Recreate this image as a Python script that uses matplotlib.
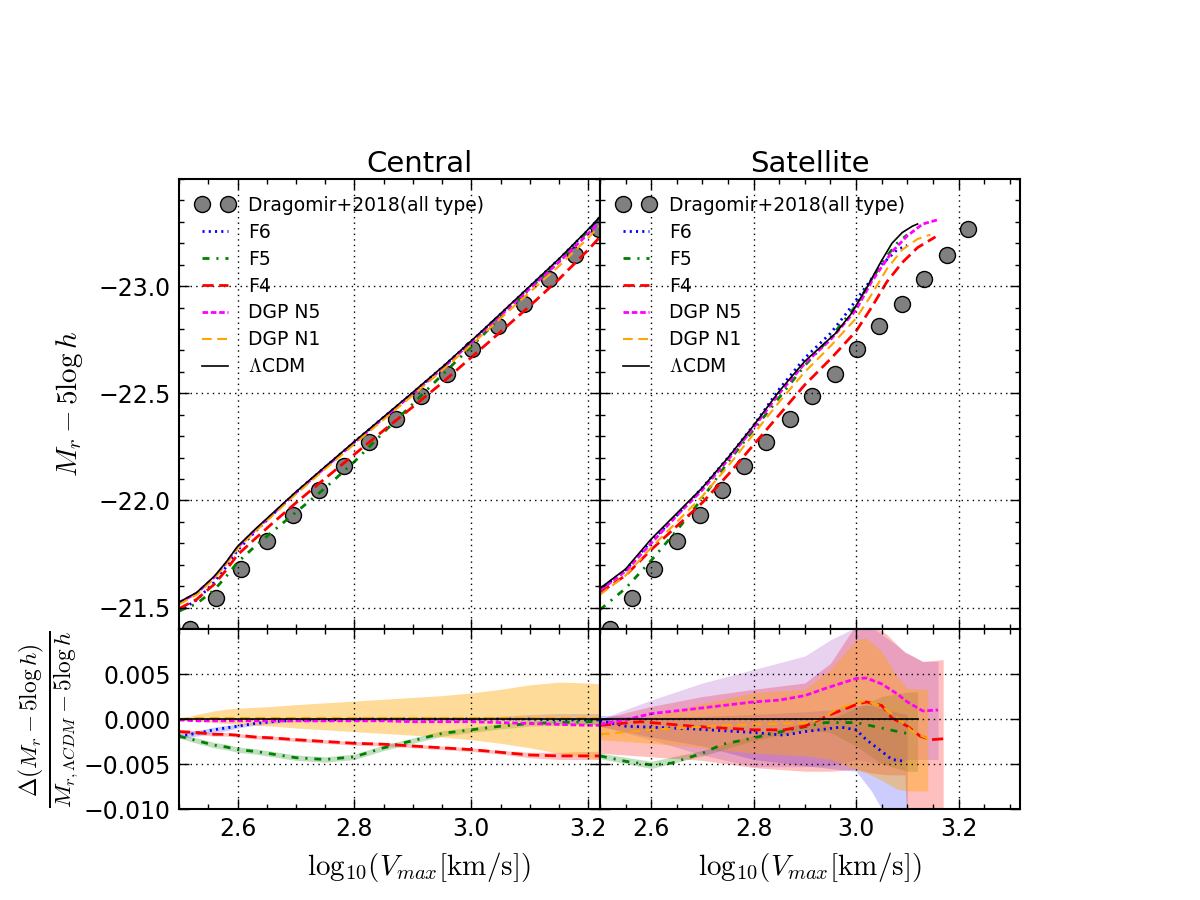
import numpy as np
import matplotlib.pyplot as plt
from matplotlib.ticker import MultipleLocator, FixedLocator

plt.rcParams['font.family'] = ['DejaVu Sans']
plt.rcParams['mathtext.fontset'] = 'cm'
plt.rcParams['lines.scale_dashes'] = False

# ---- Dragomir+2018 (all type) ----
obs_x = [2.519, 2.563, 2.606, 2.650, 2.695, 2.739, 2.782, 2.825, 2.871, 2.914,
         2.958, 3.001, 3.045, 3.090, 3.132, 3.177, 3.218]
obs_y = [-21.400, -21.547, -21.682, -21.812, -21.934, -22.050, -22.162, -22.274,
         -22.381, -22.489, -22.591, -22.708, -22.815, -22.918, -23.035, -23.146, -23.268]

# ---- Central: magnitude curves ----
x_cen = [2.50, 2.53, 2.56, 2.58, 2.60, 2.63, 2.66, 2.70, 2.75, 2.80, 2.85, 2.90, 2.95,
         3.00, 3.05, 3.10, 3.15, 3.20, 3.22]
cen_lcdm = [-21.525, -21.57, -21.645, -21.71, -21.785, -21.865, -21.94, -22.04, -22.158, -22.275,
            -22.39, -22.505, -22.622, -22.745, -22.872, -23.0, -23.128, -23.265, -23.325]
cen_f6 = [-21.483, -21.535, -21.618, -21.688, -21.767, -21.854, -21.934, -22.038, -22.156, -22.273,
          -22.388, -22.503, -22.62, -22.743, -22.87, -22.998, -23.126, -23.262, -23.322]
cen_f5 = [-21.484, -21.518, -21.582, -21.643, -21.711, -21.786, -21.855, -21.945, -22.058, -22.181,
          -22.318, -22.451, -22.586, -22.718, -22.854, -22.988, -23.119, -23.258, -23.318]
cen_f4 = [-21.495, -21.538, -21.608, -21.673, -21.746, -21.821, -21.894, -21.989, -22.103, -22.215,
          -22.327, -22.437, -22.549, -22.668, -22.787, -22.908, -23.033, -23.17, -23.23]
cen_n5 = [-21.523, -21.567, -21.641, -21.706, -21.781, -21.861, -21.936, -22.036, -22.154, -22.27,
          -22.385, -22.498, -22.615, -22.738, -22.863, -22.989, -23.113, -23.245, -23.303]
cen_n1 = [-21.515, -21.56, -21.635, -21.70, -21.775, -21.855, -21.93, -22.03, -22.147, -22.263,
          -22.378, -22.491, -22.607, -22.727, -22.85, -22.972, -23.094, -23.225, -23.285]

# ---- Satellite: magnitude curves ----
sat_lcdm_x = [2.50, 2.55, 2.60, 2.65, 2.70, 2.75, 2.80, 2.85, 2.90, 2.93, 2.96, 2.99, 3.02, 3.05, 3.07, 3.09, 3.11, 3.12]
sat_lcdm_y = [-21.59, -21.68, -21.82, -21.94, -22.06, -22.20, -22.35, -22.51, -22.65, -22.715, -22.78, -22.87,
              -22.99, -23.12, -23.20, -23.25, -23.28, -23.29]
sat_f6_x = [2.50, 2.55, 2.60, 2.65, 2.70, 2.75, 2.80, 2.85, 2.90, 2.95, 2.98, 3.02, 3.05, 3.08, 3.10]
sat_f6_y = [-21.585, -21.675, -21.81, -21.93, -22.06, -22.20, -22.35, -22.52, -22.665, -22.78, -22.87, -23.00,
            -23.10, -23.17, -23.19]
sat_f5_x = [2.50, 2.55, 2.60, 2.65, 2.70, 2.75, 2.80, 2.85, 2.90, 2.95, 3.00, 3.03, 3.06, 3.08, 3.10]
sat_f5_y = [-21.49, -21.59, -21.72, -21.86, -22.01, -22.18, -22.33, -22.48, -22.63, -22.76, -22.91, -23.03,
            -23.14, -23.20, -23.24]
sat_f4_x = [2.50, 2.55, 2.60, 2.65, 2.70, 2.75, 2.80, 2.85, 2.90, 2.95, 3.00, 3.03, 3.06, 3.09, 3.12, 3.155]
sat_f4_y = [-21.57, -21.65, -21.77, -21.88, -21.99, -22.12, -22.26, -22.40, -22.54, -22.66, -22.79, -22.90,
            -23.02, -23.11, -23.18, -23.23]
sat_n5_x = [2.50, 2.55, 2.60, 2.65, 2.70, 2.75, 2.80, 2.85, 2.90, 2.95, 3.00, 3.03, 3.07, 3.10, 3.13, 3.16]
sat_n5_y = [-21.58, -21.67, -21.80, -21.93, -22.05, -22.19, -22.34, -22.50, -22.64, -22.75, -22.89, -23.02,
            -23.16, -23.235, -23.29, -23.31]
sat_n1_x = [2.50, 2.55, 2.60, 2.65, 2.70, 2.75, 2.80, 2.85, 2.90, 2.95, 3.00, 3.03, 3.06, 3.09, 3.12, 3.145]
sat_n1_y = [-21.56, -21.65, -21.78, -21.90, -22.02, -22.16, -22.31, -22.46, -22.60, -22.72, -22.85, -22.96,
            -23.08, -23.17, -23.22, -23.24]

# ---- Central: fractional difference to LCDM ----
rc_f6 = [-0.0019, -0.0016, -0.0012, -0.0010, -0.0008, -0.0005, -0.0003, -0.0001, -0.0001, 0.0, 0.0, 0.0, 0.0,
         0.0, 0.0, 0.0, -0.0001, -0.0001, -0.0001]
rc_f6_lo = [-0.0022, -0.0019, -0.0015, -0.0013, -0.0010, -0.0007, -0.0005, -0.0003, -0.0003, -0.0002, -0.0002,
            -0.0002, -0.0002, -0.0002, -0.0002, -0.0003, -0.0005, -0.0006, -0.0006]
rc_f6_hi = [-0.0016, -0.0013, -0.0009, -0.0007, -0.0006, -0.0003, -0.0001, 0.0001, 0.0001, 0.0002, 0.0002,
            0.0002, 0.0002, 0.0002, 0.0003, 0.0005, 0.0006, 0.0006, 0.0006]
rc_f5 = [-0.0019, -0.0024, -0.0029, -0.0031, -0.0034, -0.0036, -0.0039, -0.0043, -0.0045, -0.0042, -0.0032,
         -0.0024, -0.0016, -0.0012, -0.0008, -0.0005, -0.0004, -0.0003, -0.0003]
rc_f5_lo = [-0.0021, -0.0027, -0.0032, -0.0034, -0.0037, -0.0039, -0.0042, -0.0046, -0.0048, -0.0045, -0.0035,
            -0.0027, -0.0019, -0.0015, -0.0011, -0.0008, -0.0007, -0.0006, -0.0006]
rc_f5_hi = [-0.0017, -0.0021, -0.0026, -0.0028, -0.0031, -0.0033, -0.0036, -0.0040, -0.0042, -0.0039, -0.0029,
            -0.0021, -0.0013, -0.0009, -0.0005, -0.0002, -0.0001, 0.0000, 0.0000]
rc_f4 = [-0.0014, -0.0015, -0.0017, -0.0017, -0.0018, -0.0020, -0.0021, -0.0023, -0.0025, -0.0027, -0.0028,
         -0.0030, -0.0032, -0.0034, -0.0037, -0.0040, -0.0041, -0.0041, -0.0041]
rc_f4_lo = [-0.0016, -0.0017, -0.0019, -0.0019, -0.0020, -0.0022, -0.0023, -0.0025, -0.0027, -0.0029, -0.0030,
            -0.0032, -0.0034, -0.0036, -0.0039, -0.0043, -0.0045, -0.0045, -0.0045]
rc_f4_hi = [-0.0012, -0.0013, -0.0015, -0.0015, -0.0016, -0.0018, -0.0019, -0.0021, -0.0023, -0.0025, -0.0026,
            -0.0028, -0.0030, -0.0032, -0.0035, -0.0037, -0.0037, -0.0036, -0.0036]
rc_n5 = [-0.0001, -0.0002, -0.0002, -0.0002, -0.0002, -0.0002, -0.0002, -0.0002, -0.0002, -0.0002, -0.0002,
         -0.0003, -0.0003, -0.0003, -0.0004, -0.0005, -0.0006, -0.0007, -0.0007]
rc_n1 = [0.0, 0.0001, 0.0001, 0.0001, 0.0001, 0.0001, 0.0001, 0.0001, 0.0001, 0.0001, 0.0001, 0.0001, 0.0001,
         0.0001, 0.0001, 0.0001, 0.0001, 0.0001, 0.0001]
rc_n1_lo = [0.0, -0.0002, -0.0004, -0.0005, -0.0006, -0.0007, -0.0008, -0.0010, -0.0012, -0.0014, -0.0016,
            -0.0018, -0.0020, -0.0023, -0.0027, -0.0032, -0.0038, -0.0043, -0.0045]
rc_n1_hi = [0.0, 0.0005, 0.0009, 0.0011, 0.0012, 0.0013, 0.0014, 0.0016, 0.0018, 0.0020, 0.0022, 0.0024, 0.0026,
            0.0029, 0.0033, 0.0038, 0.0041, 0.0040, 0.0039]
rc_lcdm = [0.0] * 19

# ---- Satellite: fractional difference to LCDM ----
rs_n5_x = [2.50, 2.55, 2.60, 2.68, 2.80, 2.85, 2.90, 2.94, 3.00, 3.02, 3.05, 3.08, 3.10, 3.13, 3.16]
rs_n5_y = [-0.0006, -0.0001, 0.0006, 0.0011, 0.0019, 0.0021, 0.0026, 0.0034, 0.0045, 0.00455, 0.0039, 0.0028,
           0.0019, 0.0009, 0.0010]
rs_n1_x = [2.50, 2.60, 2.74, 2.90, 2.93, 2.96, 3.00, 3.02, 3.05, 3.09, 3.11, 3.14]
rs_n1_y = [-0.0017, -0.0012, -0.0007, -0.00044, 0.0, 0.0010, 0.00185, 0.0020, 0.0014, -0.0003, -0.0014, -0.0022]
rs_f4_x = [2.50, 2.58, 2.68, 2.80, 2.86, 2.90, 2.95, 3.00, 3.02, 3.05, 3.07, 3.10, 3.125, 3.145, 3.17]
rs_f4_y = [-0.0007, -0.0003, -0.0008, -0.0012, -0.0012, -0.0008, 0.0005, 0.0016, 0.0019, 0.0015, 0.0001, -0.0008,
           -0.0019, -0.0023, -0.0022]
rs_f5_x = [2.50, 2.55, 2.60, 2.64, 2.70, 2.74, 2.80, 2.87, 2.94, 3.00, 3.05, 3.09, 3.10]
rs_f5_y = [-0.0041, -0.0047, -0.0051, -0.0049, -0.0038, -0.0028, -0.0021, -0.0012, -0.0004, -0.0004, -0.0010,
           -0.0015, -0.0016]
rs_f6_x = [2.50, 2.55, 2.68, 2.80, 2.86, 2.90, 2.97, 3.00, 3.02, 3.05, 3.07, 3.095]
rs_f6_y = [-0.0002, -0.0008, -0.0011, -0.0015, -0.0018, -0.0014, -0.0009, -0.0012, -0.0023, -0.0036, -0.0045, -0.0047]
rs_lcdm_x = [2.50, 3.12]
rs_lcdm_y = [0.0, 0.0]

# satellite bands
bs_f6_x = [2.50, 2.60, 2.70, 2.80, 2.90, 2.95, 3.00, 3.03, 3.06, 3.10]
bs_f6_lo = [-0.0008, -0.0020, -0.0030, -0.0045, -0.0052, -0.0055, -0.0058, -0.0080, -0.0110, -0.0130]
bs_f6_hi = [0.0004, 0.0002, 0.0003, 0.0005, 0.0008, 0.0010, 0.0015, 0.0015, 0.0010, 0.0005]
bs_f5_x = [2.50, 2.60, 2.70, 2.80, 2.90, 2.95, 3.00, 3.05, 3.10, 3.12]
bs_f5_lo = [-0.0044, -0.0055, -0.0041, -0.0024, -0.0012, -0.0015, -0.0030, -0.0050, -0.0058, -0.0058]
bs_f5_hi = [-0.0038, -0.0047, -0.0035, -0.0018, -0.0004, 0.0000, 0.0012, 0.0025, 0.0030, 0.0030]
bs_f4_x = [2.50, 2.60, 2.70, 2.80, 2.90, 2.95, 3.00, 3.03, 3.06, 3.095, 3.10, 3.13, 3.17]
bs_f4_lo = [-0.0038, -0.0042, -0.0046, -0.0054, -0.0058, -0.0058, -0.0056, -0.0060, -0.0062, -0.0062, -0.0120,
            -0.0120, -0.0120]
bs_f4_hi = [0.0000, 0.0014, 0.0025, 0.0033, 0.0040, 0.0062, 0.0105, 0.0105, 0.0094, 0.0074, 0.0073, 0.0064, 0.0066]
bs_n5_x = [2.50, 2.60, 2.70, 2.80, 2.90, 2.95, 3.00, 3.03, 3.06, 3.10, 3.13, 3.16]
bs_n5_lo = [-0.0008, -0.0023, -0.0040, -0.0053, -0.0053, -0.0052, -0.0045, -0.0048, -0.0050, -0.0045, -0.0045, -0.0045]
bs_n5_hi = [0.0000, 0.0021, 0.0040, 0.0055, 0.0070, 0.0088, 0.0102, 0.0102, 0.0090, 0.0073, 0.0064, 0.0064]
bs_n1_x = [2.50, 2.60, 2.70, 2.80, 2.90, 2.95, 3.00, 3.02, 3.05, 3.08, 3.10, 3.14]
bs_n1_lo = [-0.0023, -0.0027, -0.0032, -0.0038, -0.0041, -0.0045, -0.0056, -0.0060, -0.0068, -0.0078, -0.0080, -0.0080]
bs_n1_hi = [-0.0005, 0.0003, 0.0017, 0.0029, 0.0033, 0.0055, 0.0088, 0.0090, 0.0075, 0.0047, 0.0034, 0.0033]

labels = ['F6', 'F5', 'F4', 'DGP N5', 'DGP N1', r'$\Lambda$CDM']
styles = {
    'F6': dict(color='#0000ff', lw=2, dashes=(1.5, 3)),
    'F5': dict(color='#008000', lw=2, dashes=(5, 5, 1.5, 5)),
    'F4': dict(color='#ff0000', lw=2, dashes=(8, 4)),
    'DGP N5': dict(color='#ff00ff', lw=2, dashes=(4, 2)),
    'DGP N1': dict(color='orange', lw=1.5, dashes=(7, 4)),
    r'$\Lambda$CDM': dict(color='k', lw=1.2, ls='-'),
}
band_alpha = {'F6': ('#0000ff', 0.2), 'F5': ('#008000', 0.25), 'F4': ('#ff0000', 0.25),
              'DGP N5': ('#9933bb', 0.22), 'DGP N1': ('orange', 0.4)}


def style_axes(ax, xlim, ylim, yticks, yminor=None):
    ax.set_xlim(xlim)
    ax.set_ylim(ylim)
    ax.xaxis.set_major_locator(MultipleLocator(0.2))
    ax.xaxis.set_minor_locator(MultipleLocator(0.05))
    ax.yaxis.set_major_locator(FixedLocator(yticks))
    if yminor:
        ax.yaxis.set_minor_locator(MultipleLocator(yminor))
    ax.tick_params(which='both', direction='in', top=True, right=True,
                   labelsize=17, pad=6)
    ax.tick_params(which='major', length=7, width=1)
    ax.tick_params(which='minor', length=3.5, width=1)
    ax.grid(True, which='major', color='k', linestyle=(0, (1, 3)), linewidth=1)
    ax.set_axisbelow(False)
    for s in ax.spines.values():
        s.set_linewidth(1.5)


fig = plt.figure(figsize=(12, 9), dpi=100)
ax_tl = fig.add_axes([0.1492, 0.3011, 0.3508, 0.5])
ax_tr = fig.add_axes([0.5, 0.3011, 0.35, 0.5])
ax_bl = fig.add_axes([0.1492, 0.1011, 0.3508, 0.2])
ax_br = fig.add_axes([0.5, 0.1011, 0.35, 0.2])

# top panels
cen = [cen_f6, cen_f5, cen_f4, cen_n5, cen_n1, cen_lcdm]
sat = [(sat_f6_x, sat_f6_y), (sat_f5_x, sat_f5_y), (sat_f4_x, sat_f4_y),
       (sat_n5_x, sat_n5_y), (sat_n1_x, sat_n1_y), (sat_lcdm_x, sat_lcdm_y)]
for ax, curves in [(ax_tl, [(x_cen, c) for c in cen]), (ax_tr, sat)]:
    ax.plot(obs_x, obs_y, 'o', ms=11.5, color='0.5', mec='k', mew=1,
            label='Dragomir+2018(all type)')
    for lab, (xx, yy) in zip(labels, curves):
        ax.plot(xx, yy, label=lab, **styles[lab])
    ax.legend(loc='upper left', frameon=False, fontsize=13.5, numpoints=2,
              handlelength=2.0, handletextpad=0.8, labelspacing=0.42,
              borderaxespad=0.5, borderpad=0.4)
    style_axes(ax, (2.5, 3.22) if ax is ax_tl else (2.5, 3.32), (-21.4, -23.5),
               [-23.0, -22.5, -22.0, -21.5], 0.1)

# bottom-left (central)
bands_c = [('F6', rc_f6_lo, rc_f6_hi), ('F5', rc_f5_lo, rc_f5_hi),
           ('F4', rc_f4_lo, rc_f4_hi), ('DGP N1', rc_n1_lo, rc_n1_hi)]
for lab, lo, hi in bands_c:
    c, a = band_alpha[lab]
    ax_bl.fill_between(x_cen, lo, hi, color=c, alpha=a, lw=0)
for lab, yy in zip(labels, [rc_f6, rc_f5, rc_f4, rc_n5, rc_n1, rc_lcdm]):
    ax_bl.plot(x_cen, yy, **styles[lab])

# bottom-right (satellite)
bands_s = [('F6', bs_f6_x, bs_f6_lo, bs_f6_hi), ('F5', bs_f5_x, bs_f5_lo, bs_f5_hi),
           ('F4', bs_f4_x, bs_f4_lo, bs_f4_hi), ('DGP N5', bs_n5_x, bs_n5_lo, bs_n5_hi),
           ('DGP N1', bs_n1_x, bs_n1_lo, bs_n1_hi)]
for lab, xx, lo, hi in bands_s:
    c, a = band_alpha[lab]
    ax_br.fill_between(xx, lo, hi, color=c, alpha=a, lw=0)
rs = [(rs_f6_x, rs_f6_y), (rs_f5_x, rs_f5_y), (rs_f4_x, rs_f4_y),
      (rs_n5_x, rs_n5_y), (rs_n1_x, rs_n1_y), (rs_lcdm_x, rs_lcdm_y)]
for lab, (xx, yy) in zip(labels, rs):
    ax_br.plot(xx, yy, **styles[lab])

for ax, xl in [(ax_bl, (2.5, 3.22)), (ax_br, (2.5, 3.32))]:
    style_axes(ax, xl, (-0.010, 0.010), [-0.010, -0.005, 0.0, 0.005])
    ax.set_xlabel(r'$\mathrm{log}_{10}(V_{max}[\mathrm{km/s}])$', fontsize=21, labelpad=6)

ax_bl.xaxis.label.set_x(0.570)

ax_tl.tick_params(labelbottom=False)
ax_tr.tick_params(labelbottom=False, labelleft=False)
ax_br.tick_params(labelleft=False)

ax_tl.set_title('Central', fontsize=21, x=0.572, pad=5)
ax_tr.set_title('Satellite', fontsize=21, pad=5)

ax_tl.set_ylabel(r'$M_r - 5\log h$', fontsize=21)
ax_tl.yaxis.set_label_coords(-0.223, 0.5)
ax_bl.set_ylabel(r'$\frac{\Delta(M_r - 5\log h)}{M_{r,\Lambda CDM} - 5\log h}$', fontsize=24)
ax_bl.yaxis.set_label_coords(-0.233, 0.5)

fig.savefig('out.png', dpi=100, facecolor='white')
